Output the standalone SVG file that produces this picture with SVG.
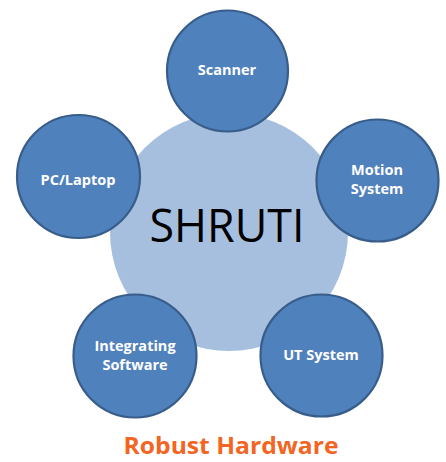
<svg xmlns="http://www.w3.org/2000/svg" width="446" height="462" viewBox="0 0 446 462">
  <style>
    .hub { fill: #A7BFDE; }
    .sat { fill: #4F81BD; stroke: #385D8A; stroke-width: 2.2; }
    .lbl { font-family: "Open Sans", "Noto Sans", sans-serif; font-weight: bold; font-size: 14.5px; fill: #FFFFFF; text-anchor: middle; }
    .hubtxt { font-family: "Open Sans", "Noto Sans", sans-serif; font-size: 46px; fill: #000000; text-anchor: middle; }
    .caption { font-family: "Open Sans", "Noto Sans", sans-serif; font-weight: bold; font-size: 23px; fill: #F26522; text-anchor: middle; }
  </style>

  <!-- central hub -->
  <g id="shruti">
    <circle class="hub" cx="229" cy="232" r="119"/>
    <text class="hubtxt" x="227" y="242" textLength="155" lengthAdjust="spacingAndGlyphs">SHRUTI</text>
  </g>

  <!-- satellite nodes arranged around the hub -->
  <g id="scanner">
    <circle class="sat" cx="227.5" cy="71" r="60.5"/>
    <text class="lbl" x="227" y="75">Scanner</text>
  </g>

  <g id="motion-system">
    <circle class="sat" cx="377.5" cy="180.5" r="61"/>
    <text class="lbl" x="377" y="175">Motion</text>
    <text class="lbl" x="377" y="194">System</text>
  </g>

  <g id="ut-system">
    <circle class="sat" cx="321.5" cy="355.5" r="61"/>
    <text class="lbl" x="321" y="360">UT System</text>
  </g>

  <g id="integrating-software">
    <circle class="sat" cx="135" cy="356" r="61.5"/>
    <text class="lbl" x="135" y="351">Integrating</text>
    <text class="lbl" x="135" y="370">Software</text>
  </g>

  <g id="pc-laptop">
    <circle class="sat" cx="78.5" cy="176.5" r="61.5"/>
    <text class="lbl" x="78" y="185">PC/Laptop</text>
  </g>

  <!-- caption -->
  <text class="caption" x="231" y="454" textLength="215" lengthAdjust="spacingAndGlyphs">Robust Hardware</text>
</svg>
